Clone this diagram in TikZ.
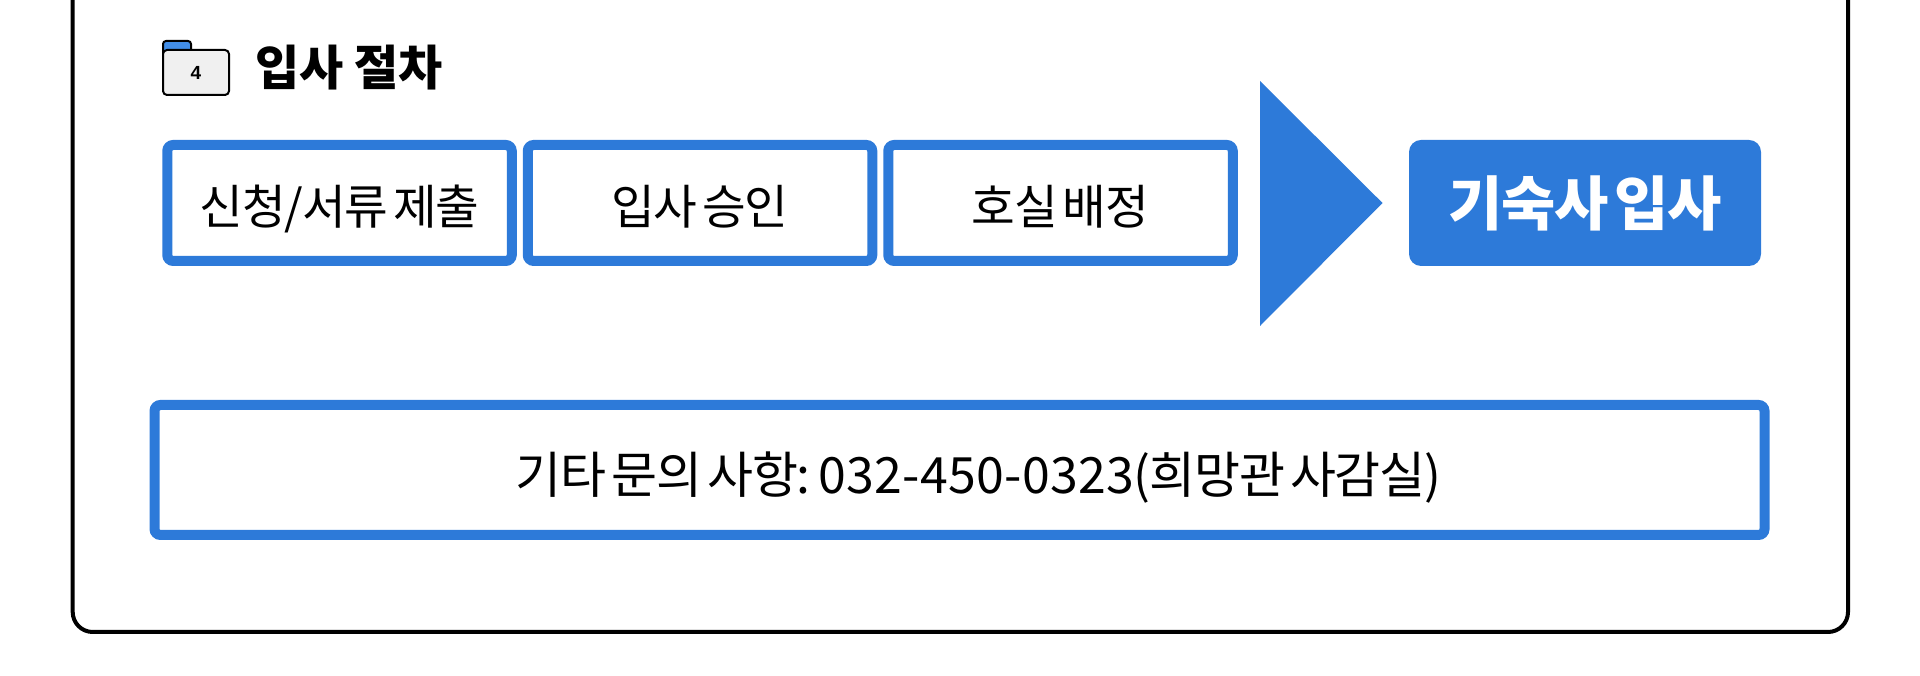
\documentclass[tikz,border=0pt]{standalone}
\usepackage{fontspec}
\setmainfont{Noto Sans CJK KR}
\newfontfamily\tightfont[LetterSpace=-2.5,WordSpace=0.5]{Noto Sans CJK KR}
\newfontfamily\widefont[LetterSpace=0.5]{Noto Sans CJK KR}
\newfontfamily\numfont{Liberation Sans}
\usetikzlibrary{positioning}
\definecolor{myblue}{RGB}{45,122,217}
\definecolor{mytab}{RGB}{66,142,232}
\definecolor{mygray}{RGB}{240,240,240}

\begin{document}
\begin{tikzpicture}[x=1pt,y=1pt,
  stepbox/.style={draw=myblue,line width=10pt,fill=white,rounded corners=6pt,
    minimum width=344.5pt,minimum height=116pt,inner sep=0pt,text depth=0pt,
    font=\tightfont\fontsize{47.5}{52}\selectfont},
  donebox/.style={fill=myblue,rounded corners=12pt,text=white,
    minimum width=352pt,minimum height=126pt,inner sep=0pt,
    font=\tightfont\fontsize{59}{63}\selectfont\bfseries},
  infobox/.style={stepbox,minimum width=1610pt,minimum height=130pt,
    font=\tightfont\fontsize{50}{54}\selectfont},
  titletext/.style={inner sep=0pt,font=\fontsize{48}{52}\selectfont\bfseries}]

  \useasboundingbox (0,0) rectangle (1920,676);

  % outer frame runs off the top
  \draw[line width=4pt,rounded corners=20pt] (72.7,676) -- (72.7,44) -- (1848,44) -- (1848,676);

  % folder icon
  \draw[line width=2pt,fill=mytab,rounded corners=3pt] (163,620) -- (163,635) -- (191,635) -- (191,620);
  \node[draw,line width=2pt,fill=mygray,rounded corners=4pt,minimum width=66pt,minimum height=45pt,
    inner sep=0pt,font=\numfont\fontsize{19}{21}\selectfont\bfseries] (folder) at (196,603.5) {4};
  \node[titletext,anchor=west] (title) at (255,608) {입사 절차};

  % three steps
  \node[stepbox] (apply) at (339.5,473) {\raisebox{-4pt}{신청/서류 제출}};
  \node[stepbox,right=6pt of apply] (approve) {\raisebox{-4pt}{입사 승인}};
  \node[stepbox,right=6pt of approve] (room) {\raisebox{-4pt}{호실 배정}};

  % big triangle
  \fill[myblue] (1260,595) -- (1382.5,473) -- (1260,350) -- cycle;

  \node[donebox] (enter) at (1585,473) {\raisebox{-2pt}{기숙사 입사}};

  \node[infobox] (contact) at (959.5,206) {\hspace*{38pt}\raisebox{-5pt}{기타 문의 사항: {\widefont 032-450-0323}(희망관 사감실)}};

\end{tikzpicture}
\end{document}
